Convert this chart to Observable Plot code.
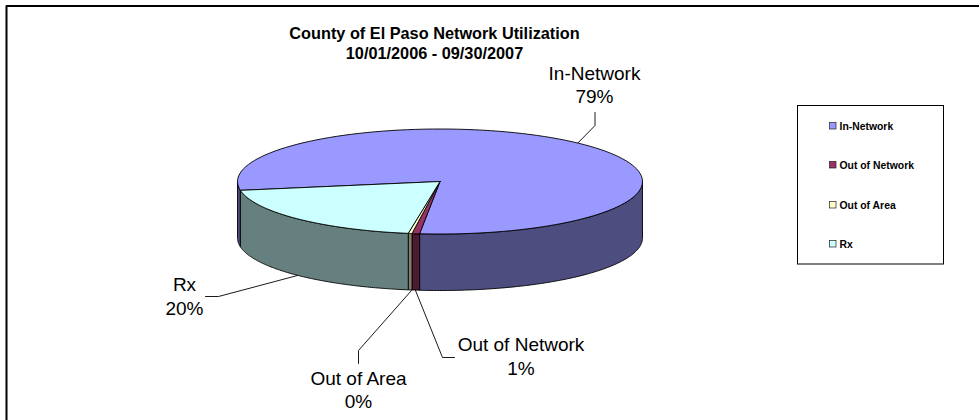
<!DOCTYPE html>
<html><head><meta charset="utf-8">
<style>html,body{margin:0;padding:0;background:#fff}svg{display:block}</style>
<script src="https://cdn.jsdelivr.net/npm/d3@7"></script>
<script src="https://cdn.jsdelivr.net/npm/@observablehq/plot@0.6"></script>
</head><body><script>
const titleLines = ["County of El Paso Network Utilization", "10/01/2006 - 09/30/2007"];
const categories = ["In-Network", "Out of Network", "Out of Area", "Rx"];
const shares = [79.3, 0.6, 0.3, 19.8];
const topColors = ["#9999FF", "#993366", "#FFFFCC", "#CCFFFF"];
const sideColors = ["#4D4D80", "#4D1A33", "#808066", "#668080"];

// Pie projection (layout, not data)
const font = "'Liberation Sans', Arial, sans-serif";
const cx = 439.5, cy = 181, rx = 202.5, ry = 52.5, depth = 56.5, startDeg = 260.3;
const pt = (deg, dz = 0) => {
  const a = deg * Math.PI / 180;
  return {x: cx + rx * Math.sin(a), y: cy - ry * Math.cos(a) + dz};
};
const arc = (a0, a1) => d3.range(0, 121).map(i => a0 + (a1 - a0) * i / 120);

let acc = startDeg;
const slices = categories.map((name, i) => {
  const a0 = acc, a1 = acc + shares[i] * 3.6;
  acc = a1;
  return {name, i, a0, a1};
});

const polys = [];
const add = (id, color, pts) => pts.forEach(p => polys.push({...p, id, color}));
slices.forEach(s => {
  [[90, 270], [450, 630]].forEach(([lo, hi], k) => {
    const a = Math.max(s.a0, lo), b = Math.min(s.a1, hi);
    if (b <= a) return;
    const as = arc(a, b);
    const ring = [...as.map(d => pt(d)), ...as.slice().reverse().map(d => pt(d, depth))];
    add(`side${s.i}-${k}`, sideColors[s.i], [...ring, ring[0]]);
  });
});
slices.forEach(s => {
  const c = {x: cx, y: cy};
  add(`top${s.i}`, topColors[s.i], [c, ...arc(s.a0, s.a1).map(d => pt(d)), c]);
});

// Leader lines and label placement
const labelAt = [[594, 83.5], [520.5, 355], [358, 388.5], [184, 295]];
const leaderPaths = [
  [[594.5, 112], [594.5, 125], [575, 145]],
  [[415, 290], [442, 357], [454, 357]],
  [[411, 290], [358, 350], [358, 363]],
  [[205, 296], [218, 296], [297, 275]]
];
const leaders = leaderPaths.flatMap((p, id) => p.map(([x, y]) => ({x, y, id})));
const labels = categories.map((name, i) => ({
  x: labelAt[i][0], y: labelAt[i][1],
  text: `${name}\n${Math.round(shares[i])}%`
}));
const titles = titleLines.map((t, i) => ({t, x: 434, y: 33 + i * 20.5}));
const legendRows = categories.map((name, i) => ({name, i, y: [126, 165, 205, 244][i]}));
const frame = [{x: 6, y: 420}, {x: 6, y: 5.5}, {x: 979, y: 5.5}];
const legendBox = [{x1: 797.5, x2: 943.5, y1: 105.5, y2: 264}];

document.body.append(Plot.plot({
  width: 979, height: 420, margin: 0,
  style: {background: "#fff", fontFamily: font},
  x: {type: "linear", domain: [0, 979], range: [0, 979], axis: null},
  y: {type: "linear", domain: [0, 420], range: [0, 420], axis: null},
  color: {type: "identity"},
  marks: [
    Plot.line(frame, {x: "x", y: "y", stroke: "#000", strokeWidth: 2, curve: "linear"}),
    Plot.line(leaders, {x: "x", y: "y", z: "id", stroke: "#000", strokeWidth: 0.9, curve: "linear"}),
    Plot.line(polys, {x: "x", y: "y", z: "id", fill: "color", stroke: "#000", strokeWidth: 0.9, strokeLinejoin: "round", curve: "linear"}),
    Plot.text(titles, {x: "x", y: "y", text: "t", fontSize: 16.3, fontWeight: "bold", fill: "#000"}),
    Plot.text(labels, {x: "x", y: "y", text: "text", fontSize: 19, lineHeight: 1.24, fill: "#000"}),
    Plot.rect(legendBox, {x1: "x1", x2: "x2", y1: "y1", y2: "y2", fill: "#fff", stroke: "#000", strokeWidth: 1}),
    Plot.rect(legendRows, {x1: () => 829.5, x2: () => 836, y1: d => d.y - 3.5, y2: d => d.y + 3, fill: d => topColors[d.i], stroke: "#222", strokeWidth: 0.7, inset: 0}),
    Plot.text(legendRows, {x: () => 839, y: "y", text: "name", textAnchor: "start", fontSize: 10.4, fontWeight: "bold", fill: "#000"})
  ]
}));
</script></body></html>
